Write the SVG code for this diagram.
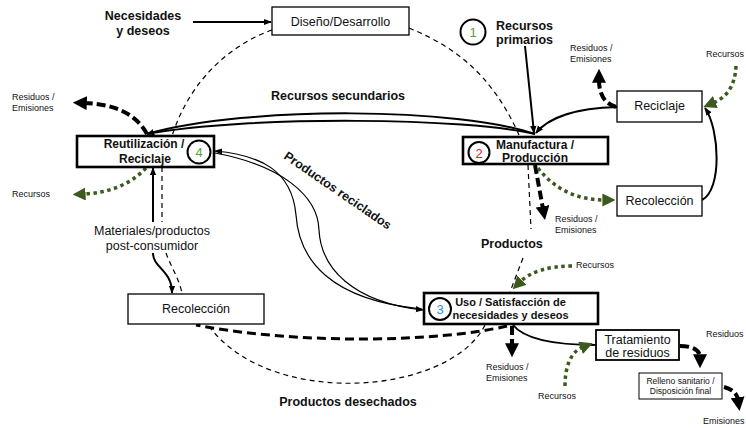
<svg xmlns="http://www.w3.org/2000/svg" width="746" height="428" viewBox="0 0 746 428">
<style>
text{font-family:"Liberation Sans",Arial,Helvetica,sans-serif;fill:#111}
.b{font-weight:bold}
.m{text-anchor:middle}
.s9{font-size:9px}
.s12{font-size:12.5px}
.box{fill:#fff;stroke:#000;stroke-width:1.3}
.bx{fill:#fff;stroke:#000;stroke-width:2.6}
.cyc{fill:none;stroke:#000;stroke-width:1.2;stroke-dasharray:5 4}
.sol{fill:none;stroke:#000;stroke-width:2}
.thin{fill:none;stroke:#000;stroke-width:1.2}
.emi{fill:none;stroke:#000;stroke-width:4;stroke-dasharray:9 4}
.des{fill:none;stroke:#000;stroke-width:3;stroke-dasharray:9 5}
.res{fill:none;stroke:#3b5a1e;stroke-width:3.5;stroke-dasharray:3.5 3.5}
.num{fill:#fff;stroke:#000;stroke-width:2}
.d{font-size:13px;text-anchor:middle}
</style>
<defs>
<marker id="a" viewBox="0 0 10 10" refX="9" refY="5" markerWidth="8" markerHeight="8" markerUnits="userSpaceOnUse" orient="auto"><path d="M0,1 L10,5 L0,9 z" fill="#000"/></marker>
<marker id="ak" viewBox="0 0 10 10" refX="2" refY="5" markerWidth="14" markerHeight="14" markerUnits="userSpaceOnUse" orient="auto"><path d="M0,0 L10,5 L0,10 z" fill="#000"/></marker>
<marker id="ag" viewBox="0 0 10 10" refX="2" refY="5" markerWidth="13" markerHeight="13" markerUnits="userSpaceOnUse" orient="auto"><path d="M0,0 L10,5 L0,10 z" fill="#3b5a1e"/></marker>
</defs>

<g id="connectors">
  <path class="cyc" d="M272 30 C230 45 190 80 172 136"/>
  <path class="cyc" d="M409 28 C450 45 490 70 519 135"/>
  <path class="cyc" d="M528 165 L531 229"/>
  <path class="cyc" d="M523 258 L510 292"/>
  <path class="cyc" d="M485 325 C450 395 270 410 208 325"/>
  <path class="cyc" d="M162 167 L162 222"/>
  <path class="cyc" d="M166 253 C170 265 180 280 182 294"/>
  <path class="des" d="M507 326 C440 342 300 345 196 325"/>
  <path class="sol" d="M193 22 L271 22" marker-end="url(#a)"/>
  <path class="sol" d="M525 46 L534 133" marker-end="url(#a)"/>
  <path class="sol" d="M617 107 C575 108 548 118 536 133" marker-end="url(#a)"/>
  <path class="sol" d="M702 200 C722 190 720 130 705 108" marker-end="url(#a)"/>
  <path class="sol" d="M535 134 C460 108 250 105 147 134" marker-end="url(#a)"/>
  <path class="sol" d="M535 134 C470 118 250 115 147 134"/>
  <path class="thin" d="M422 309 C330 300 299 260 296 215 C292 170 260 155 215 151" marker-end="url(#a)"/>
  <path class="thin" d="M215 153 C280 165 318 195 319 230 C321 268 352 302 423 310" marker-end="url(#a)"/>
  <path class="sol" d="M153 222 L153 168" marker-end="url(#a)"/>
  <path class="sol" d="M153 253 C153 268 172 270 172 293" marker-end="url(#a)"/>
  <path class="sol" d="M513 325 C525 340 560 345 596 345"/>
  <path class="emi" d="M147 134 C135 112 112 104 84 103" marker-end="url(#ak)"/>
  <path class="emi" d="M616 107 C606 104 599 96 599 80" marker-end="url(#ak)"/>
  <path class="emi" d="M535 165 L543 209" marker-end="url(#ak)"/>
  <path class="emi" d="M512 326 L512 346" marker-end="url(#ak)"/>
  <path class="emi" d="M680 346 C692 346 700 350 700 357" marker-end="url(#ak)"/>
  <path class="emi" d="M724 387 C732 389 737 393 738 400" marker-end="url(#ak)"/>
  <path class="res" d="M146 168 C130 185 108 193 83 194" marker-end="url(#ag)"/>
  <path class="res" d="M736 66 C735 88 725 98 713 103" marker-end="url(#ag)"/>
  <path class="res" d="M538 168 C555 190 578 200 605 200" marker-end="url(#ag)"/>
  <path class="res" d="M572 266 C548 266 530 272 520 282" marker-end="url(#ag)"/>
  <path class="res" d="M565 386 C565 368 570 352 583 347" marker-end="url(#ag)"/>
</g>

<g id="labels">
  <text class="b m s12" x="143" y="20">Necesidades</text>
  <text class="b m s12" x="143" y="35">y deseos</text>
  <text class="b s12" x="496" y="30">Recursos</text>
  <text class="b s12" x="496" y="44">primarios</text>
  <text class="b m s12" x="338" y="100">Recursos secundarios</text>
  <text class="b s12" x="283" y="158" transform="rotate(34.5 283 158)">Productos reciclados</text>
  <text class="b s12" x="481" y="248">Productos</text>
  <text class="b m s12" x="348" y="406">Productos desechados</text>
  <text class="m s12" x="152" y="235">Materiales/productos</text>
  <text class="m s12" x="152" y="250">post-consumidor</text>
  <text class="s9" x="12" y="100">Residuos /</text>
  <text class="s9" x="12" y="111">Emisiones</text>
  <text class="s9" x="12" y="197">Recursos</text>
  <text class="s9" x="570" y="51">Residuos /</text>
  <text class="s9" x="570" y="62">Emisiones</text>
  <text class="s9" x="706" y="57">Recursos</text>
  <text class="s9" x="555" y="222">Residuos /</text>
  <text class="s9" x="555" y="233">Emisiones</text>
  <text class="s9" x="576" y="268">Recursos</text>
  <text class="s9" x="486" y="370">Residuos /</text>
  <text class="s9" x="486" y="381">Emisiones</text>
  <text class="s9" x="538" y="399">Recursos</text>
  <text class="s9" x="706" y="337">Residuos</text>
  <text class="s9" x="703" y="424">Emisiones</text>
</g>

<g id="diseno">
  <rect class="box" x="272" y="7" width="137" height="28"/>
  <text class="m s12" x="340.5" y="26">Diseño/Desarrollo</text>
</g>
<g id="manufactura">
  <rect class="bx" x="463" y="137" width="145" height="27"/>
  <text class="b m" style="font-size:12px" x="535" y="149">Manufactura /</text>
  <text class="b m" style="font-size:12px" x="535" y="162">Producción</text>
  <circle class="num" cx="479" cy="152.5" r="10.5"/>
  <text class="d" x="479" y="157.5" style="fill:#e01b1b">2</text>
</g>
<g id="reutilizacion">
  <rect class="bx" x="77" y="136" width="137" height="31"/>
  <text class="b m" style="font-size:12px" x="144" y="148">Reutilización /</text>
  <text class="b m" style="font-size:12px" x="145" y="163">Reciclaje</text>
  <circle class="num" cx="199" cy="152" r="11.5"/>
  <text class="d" x="199" y="157" style="fill:#5c9e3c">4</text>
</g>
<g id="uso">
  <rect class="bx" x="424" y="293" width="174" height="31"/>
  <text class="b m" style="font-size:11px" x="510.5" y="306">Uso / Satisfacción de</text>
  <text class="b m" style="font-size:11px" x="510.5" y="319">necesidades y deseos</text>
  <circle class="num" cx="440" cy="309" r="11"/>
  <text class="d" x="440" y="314" style="fill:#2b8de0">3</text>
</g>
<g id="recursos-primarios">
  <circle class="num" cx="473" cy="32" r="12.5"/>
  <text class="d" x="473" y="37" style="fill:#5c9e3c">1</text>
</g>
<g id="reciclaje">
  <rect class="box" x="617" y="91" width="85" height="31"/>
  <text class="m s12" x="659.5" y="110">Reciclaje</text>
</g>
<g id="recoleccion-1">
  <rect class="box" x="617" y="186" width="85" height="30"/>
  <text class="m s12" x="659.5" y="205">Recolección</text>
</g>
<g id="recoleccion-2">
  <rect class="box" x="128" y="294" width="136" height="30"/>
  <text class="m s12" x="196" y="313">Recolección</text>
</g>
<g id="tratamiento">
  <rect class="box" x="596" y="330" width="83" height="30" style="stroke-width:1.8"/>
  <text class="m s12" x="637.5" y="344">Tratamiento</text>
  <text class="m s12" x="637.5" y="357">de residuos</text>
</g>
<g id="relleno">
  <rect class="box" x="639" y="373" width="83" height="26" style="stroke-width:1"/>
  <text class="m" style="font-size:8.5px" x="680.5" y="384">Relleno sanitario /</text>
  <text class="m" style="font-size:8.5px" x="680.5" y="394">Disposición final</text>
</g>
</svg>
